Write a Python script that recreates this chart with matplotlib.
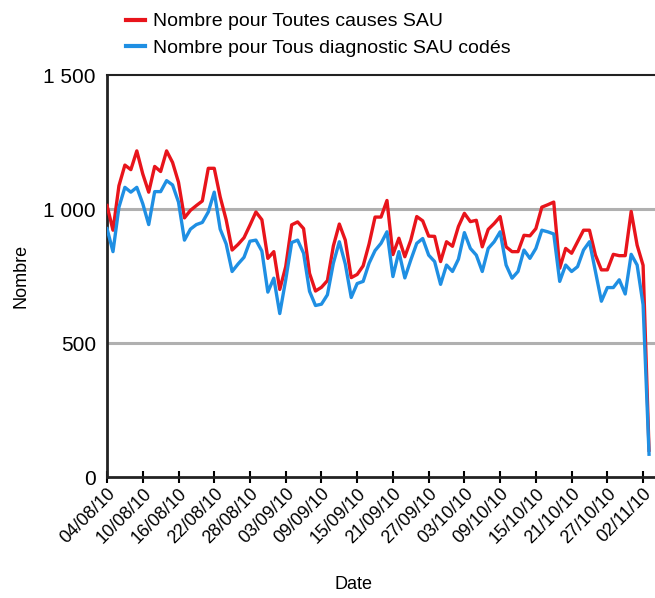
import matplotlib
matplotlib.use("Agg")
import matplotlib.pyplot as plt
import matplotlib.dates as mdates
from matplotlib.ticker import FuncFormatter, FixedLocator
import pandas as pd

start_date = "2010-08-04"
n_days = 92

toutes_causes = [
    1013, 921, 1087, 1164, 1147, 1217, 1131, 1063, 1159, 1140,
    1217, 1174, 1100, 967, 995, 1013, 1030, 1152, 1152, 1045,
    960, 847, 868, 893, 940, 989, 960, 816, 841, 700,
    785, 941, 952, 927, 760, 694, 708, 733, 862, 944,
    884, 744, 756, 788, 870, 970, 970, 1032, 830, 891,
    822, 884, 972, 956, 899, 898, 804, 878, 861, 935,
    984, 953, 958, 859, 924, 946, 972, 859, 841, 841,
    902, 900, 927, 1007, 1016, 1026, 779, 853, 835, 878,
    921, 921, 828, 773, 773, 831, 826, 826, 991, 865,
    790, 100,
]

diagnostic_codes = [
    927, 841, 1007, 1081, 1063, 1081, 1020, 942, 1065, 1065,
    1106, 1090, 1026, 884, 925, 942, 950, 989, 1063, 925,
    870, 767, 795, 820, 880, 884, 843, 690, 742, 610,
    736, 875, 884, 835, 693, 640, 645, 680, 798, 878,
    795, 670, 722, 730, 798, 845, 872, 915, 748, 841,
    743, 810, 872, 890, 828, 804, 719, 791, 767, 813,
    912, 853, 828, 767, 853, 878, 915, 791, 742, 767,
    847, 816, 853, 921, 915, 907, 730, 791, 767, 785,
    847, 878, 767, 656, 707, 707, 736, 683, 831, 791,
    643, 85,
]

series_labels = ["Nombre pour Toutes causes SAU", "Nombre pour Tous diagnostic SAU codés"]
y_ticks = [0, 500, 1000, 1500]

dates = pd.date_range(start_date, periods=n_days, freq="D")
tick_dates = dates[::6]

plt.rcParams['font.family'] = ['Liberation Sans', 'DejaVu Sans']

fig = plt.figure(figsize=(6.55, 5.98), dpi=100)
ax = fig.add_axes([0.1634, 0.2023, 0.8366, 0.6722])

for yv in (500, 1000):
    ax.axhline(yv, color="#b0b0b0", linewidth=2.2, zorder=1)

ax.plot(dates, toutes_causes, color="#e8141b", linewidth=2.4, label=series_labels[0], zorder=3)
ax.plot(dates, diagnostic_codes, color="#1f8fe3", linewidth=2.4, label=series_labels[1], zorder=4)

ax.set_xlim(dates[0], dates[0] + pd.Timedelta(days=92))
ax.set_ylim(0, 1500)

ax.yaxis.set_major_locator(FixedLocator(y_ticks))
ax.yaxis.set_major_formatter(FuncFormatter(lambda v, p: f"{int(v):,}".replace(",", " ")))
ax.tick_params(axis="y", length=0, labelsize=15, pad=8)

ax.set_xticks(tick_dates)
ax.xaxis.set_major_formatter(mdates.DateFormatter("%d/%m/%y"))
ax.tick_params(axis="x", direction="inout", length=8, width=1.5, labelsize=13, pad=2)
for lab in ax.get_xticklabels():
    lab.set_rotation(45)
    lab.set_ha("right")
    lab.set_rotation_mode("anchor")

for side in ("left", "bottom"):
    ax.spines[side].set_linewidth(2)
    ax.spines[side].set_color("#222222")
ax.spines["top"].set_linewidth(1.5)
ax.spines["top"].set_color("#222222")
ax.spines["right"].set_visible(False)

ax.set_xlabel("Date", fontsize=13)
ax.xaxis.set_label_coords(0.45, -0.245)
ax.set_ylabel("Nombre", fontsize=13, labelpad=10)

leg = fig.legend(loc="upper left", bbox_to_anchor=(0.165, 1.008), frameon=False,
                 fontsize=14, handlelength=1.0, handletextpad=0.4, labelspacing=0.45)
for line in leg.get_lines():
    line.set_linewidth(3)

fig.savefig("out.png", dpi=100)
